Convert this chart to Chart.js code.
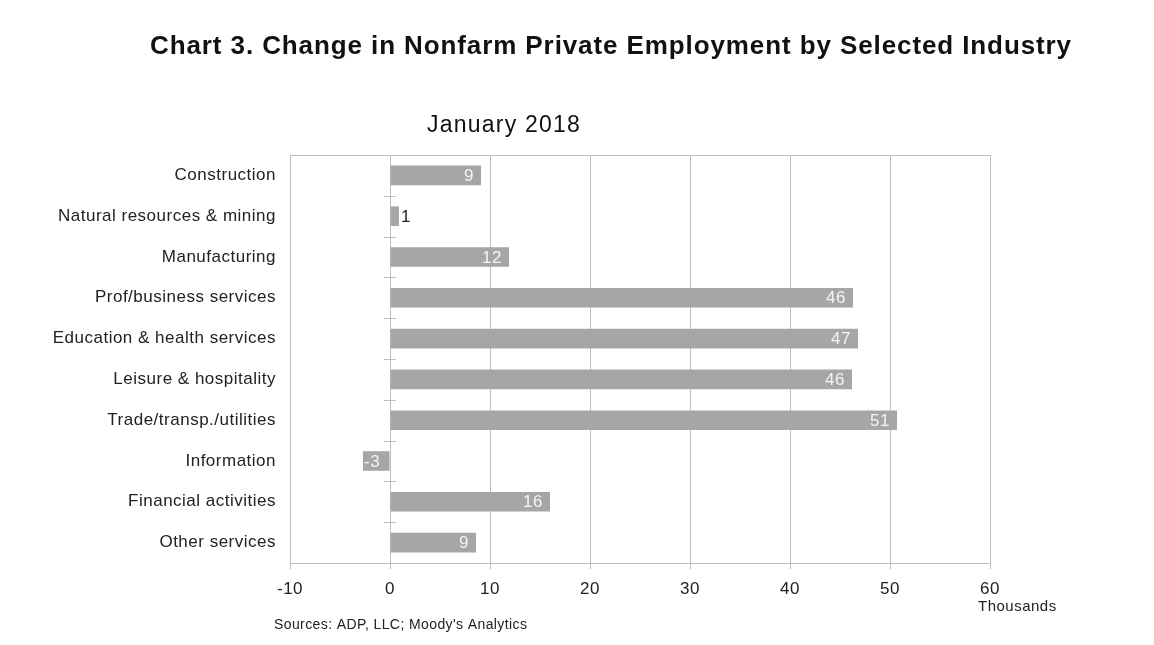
<!DOCTYPE html>
<html>
<head>
<meta charset="utf-8">
<script src="https://cdn.jsdelivr.net/npm/chart.js@4.4.1/dist/chart.umd.min.js"></script>
<style>
html,body{margin:0;padding:0;background:#fff;}
#wrap{position:relative;width:1154px;height:645px;}
canvas{display:block;}
</style>
</head>
<body>
<div id="wrap"><canvas id="c" width="1154" height="645"></canvas></div>
<script>
const chartTitle = "Chart 3. Change in Nonfarm Private Employment by Selected Industry";
const chartSubtitle = "January 2018";
const unitLabel = "Thousands";
const sourceNote = "Sources: ADP, LLC; Moody's Analytics";
const categories = ["Construction","Natural resources & mining","Manufacturing","Prof/business services","Education & health services","Leisure & hospitality","Trade/transp./utilities","Information","Financial activities","Other services"];
const values = [9.1, 0.9, 11.9, 46.3, 46.8, 46.2, 50.7, -2.7, 16.0, 8.6];
const xMin = -10, xMax = 60, xStep = 10;

const FONT = "'Liberation Sans', Arial, sans-serif";

function spaced(ctx, px) { if ('letterSpacing' in ctx) ctx.letterSpacing = px + 'px'; }

const extras = {
  id: 'extras',
  beforeDraw(chart) {
    spaced(chart.ctx, 0.5);
  },
  beforeDatasetsDraw(chart) {
    const {ctx, chartArea: a, scales} = chart;
    ctx.save();
    ctx.strokeStyle = '#bfbfbf';
    ctx.lineWidth = 1;
    ctx.beginPath();
    ctx.moveTo(a.left, Math.round(a.top) + 0.5);
    ctx.lineTo(a.right, Math.round(a.top) + 0.5);
    ctx.stroke();
    const x0 = scales.x.getPixelForValue(0);
    const n = categories.length;
    for (let i = 1; i < n; i++) {
      const y = (scales.y.getPixelForValue(i - 1) + scales.y.getPixelForValue(i)) / 2;
      ctx.beginPath();
      ctx.moveTo(x0 - 6, Math.round(y) + 0.5);
      ctx.lineTo(x0 + 6, Math.round(y) + 0.5);
      ctx.stroke();
    }
    ctx.restore();
  },
  afterDatasetsDraw(chart) {
    const {ctx} = chart;
    const meta = chart.getDatasetMeta(0);
    ctx.save();
    spaced(ctx, 0.5);
    ctx.font = "17px " + FONT;
    ctx.textBaseline = 'middle';
    meta.data.forEach((bar, i) => {
      const v = values[i];
      const txt = String(Math.round(v));
      const w = ctx.measureText(txt).width;
      const len = Math.abs(bar.x - bar.base);
      if (len > w + 6) {
        ctx.fillStyle = '#f4f4f4';
        if (v >= 0) {
          ctx.textAlign = 'right';
          ctx.fillText(txt, bar.x - 7, bar.y + 1);
        } else {
          ctx.textAlign = 'left';
          ctx.fillText(txt, bar.x + 1, bar.y + 1);
        }
      } else {
        ctx.fillStyle = '#222222';
        ctx.textAlign = 'left';
        ctx.fillText(txt, bar.x + 2, bar.y + 1);
      }
    });
    ctx.restore();
  },
  afterDraw(chart) {
    const {ctx} = chart;
    ctx.save();
    ctx.fillStyle = '#111111';
    ctx.textBaseline = 'middle';
    ctx.textAlign = 'center';
    spaced(ctx, 0.9);
    ctx.font = "bold 26px " + FONT;
    ctx.fillText(chartTitle, 611, 47);
    spaced(ctx, 1.2);
    ctx.font = "23px " + FONT;
    ctx.fillText(chartSubtitle, 504, 126);
    ctx.fillStyle = '#222222';
    ctx.textAlign = 'left';
    spaced(ctx, 0.5);
    ctx.font = "15px " + FONT;
    ctx.fillText(unitLabel, 978, 607);
    spaced(ctx, 0.4);
    ctx.font = "14px " + FONT;
    ctx.fillText(sourceNote, 274, 625);
    ctx.restore();
  }
};

new Chart(document.getElementById('c'), {
  type: 'bar',
  data: {
    labels: categories,
    datasets: [{
      data: values,
      backgroundColor: '#a6a6a6',
      borderWidth: 0,
      categoryPercentage: 1.0,
      barPercentage: 0.48
    }]
  },
  options: {
    indexAxis: 'y',
    responsive: false,
    animation: false,
    devicePixelRatio: 1,
    layout: { padding: { left: 0, right: 164, top: 155, bottom: 0 } },
    plugins: { legend: { display: false }, tooltip: { enabled: false }, title: { display: false } },
    scales: {
      x: {
        min: xMin, max: xMax,
        ticks: { stepSize: xStep, color: '#222222', font: { family: FONT, size: 17 }, padding: 10 },
        grid: { color: '#bfbfbf', lineWidth: 1, drawTicks: true, tickLength: 6, tickColor: '#bfbfbf' },
        border: { color: '#bfbfbf' },
        afterFit(s) { s.height = 82; }
      },
      y: {
        ticks: { color: '#222222', font: { family: FONT, size: 17 }, padding: 14 },
        grid: { display: false, drawTicks: false },
        border: { display: false },
        afterFit(s) { s.width = 290; }
      }
    }
  },
  plugins: [extras]
});
</script>
</body>
</html>
